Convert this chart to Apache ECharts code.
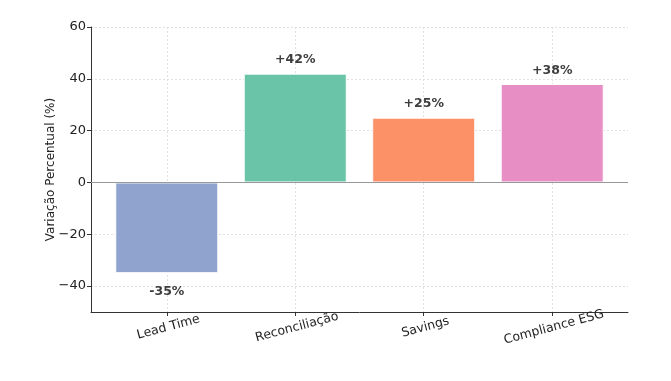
<!DOCTYPE html>
<html><head><meta charset="utf-8">
<script src="https://cdn.jsdelivr.net/npm/echarts@6/dist/echarts.min.js"></script>
<style>html,body{margin:0;padding:0;background:#fff}#c{width:671px;height:381px}</style>
</head><body><div id="c"></div>
<script>
const categories = ['Lead Time', 'Reconciliação', 'Savings', 'Compliance ESG'];
const values = [-35, 42, 25, 38];
const barColors = ['#8a9ecb', '#62c1a3', '#fc8a5f', '#e688c2'];
const yTicks = [-40, -20, 0, 20, 40, 60];
const xTicks = [0, 1, 2, 3];

const font = 'DejaVu Sans';
const chart = echarts.init(document.getElementById('c'));
chart.setOption({
  animation: false,
  textStyle: { fontFamily: font },
  grid: { left: 91, right: 43, top: 27, bottom: 69, containLabel: false },
  xAxis: {
    type: 'value', min: -0.59, max: 3.59,
    axisLine: { show: true, onZero: false, lineStyle: { color: '#333', width: 1 } },
    axisTick: { show: true, customValues: xTicks, length: 4, lineStyle: { color: '#333' } },
    axisLabel: {
      customValues: xTicks, rotate: 15, align: 'center', verticalAlign: 'top', margin: 9,
      fontSize: 12.5, color: '#222', fontFamily: font,
      formatter: v => categories[Math.round(v)]
    },
    splitLine: { show: true, lineStyle: { color: '#d9d9d9', type: [2, 2], width: 0.8 } }
  },
  yAxis: {
    type: 'value', min: -50, max: 60,
    name: 'Variação Percentual (%)', nameLocation: 'middle', nameGap: 34, nameRotate: 90,
    nameMoveOverlap: false,
    nameTextStyle: { fontSize: 12, color: '#222', fontFamily: font },
    axisLine: { show: true, onZero: false, lineStyle: { color: '#333', width: 1 } },
    axisTick: { show: true, customValues: yTicks, length: 4, lineStyle: { color: '#333' } },
    axisLabel: {
      customValues: yTicks, fontSize: 13, color: '#222', margin: 5, fontFamily: font,
      formatter: v => String(v).replace('-', '\u2212')
    },
    splitLine: { show: true, lineStyle: { color: '#d9d9d9', type: [2, 2], width: 0.8 } }
  },
  series: [{
    type: 'bar',
    barWidth: 103,
    data: values.map((v, i) => ({
      value: [i, v],
      itemStyle: { color: barColors[i], opacity: 0.95, borderColor: '#fff', borderWidth: 1 },
      label: {
        show: true,
        position: v >= 0 ? 'top' : 'bottom',
        distance: v >= 0 ? 7 : 12,
        formatter: (v > 0 ? '+' : '') + v + '%',
        fontWeight: 'bold', fontSize: 12.5, color: '#333', fontFamily: font
      }
    })),
    markLine: {
      silent: true, symbol: 'none', label: { show: false },
      lineStyle: { color: '#999', type: 'solid', width: 1.2 },
      data: [{ yAxis: 0 }]
    },
    z: 2
  }]
});
</script></body></html>
